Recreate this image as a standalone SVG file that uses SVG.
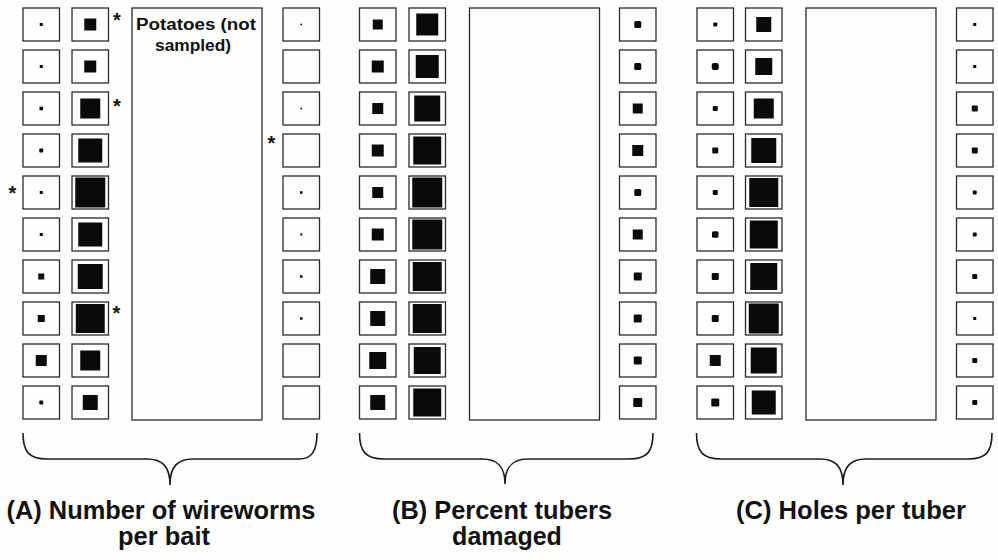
<svg xmlns="http://www.w3.org/2000/svg" xmlns:xlink="http://www.w3.org/1999/xlink" width="998" height="560" viewBox="0 0 998 560">
<style>
.b{fill:#fefefc;stroke:#2a2a2a;stroke-width:1.3}
.big{fill:#fefefc;stroke:#2a2a2a;stroke-width:1.3}
.f{fill:#0a0a0a}
.br{fill:none;stroke:#1a1a1a;stroke-width:1.6}
.t{font-family:"Liberation Sans",Arial,Helvetica,sans-serif;font-weight:bold;fill:#111}
.lab{font-size:25px;text-anchor:middle}
.pot{font-size:16px;text-anchor:middle}
.ast{font-size:20px;text-anchor:middle}
</style>
<defs>
<rect id="box" width="36.5" height="33" class="b"/>
</defs>
<rect width="998" height="560" fill="#fefefc"/>

<!-- Panel A -->
<g id="panelA">
<g id="A-potatoes"><rect class="big" x="132" y="8" width="130" height="412"/>
<text class="t pot" x="196" y="30" textLength="120" lengthAdjust="spacingAndGlyphs">Potatoes (not</text>
<text class="t pot" x="193" y="51" textLength="76" lengthAdjust="spacingAndGlyphs">sampled)</text></g>
<g id="A-c1-r1"><use href="#box" x="23" y="8"/><rect class="f" x="39.75" y="23" width="3" height="3"/></g>
<g id="A-c1-r2"><use href="#box" x="23" y="50"/><rect class="f" x="39.75" y="65" width="3" height="3"/></g>
<g id="A-c1-r3"><use href="#box" x="23" y="92"/><rect class="f" x="39.5" y="106.75" width="3.5" height="3.5"/></g>
<g id="A-c1-r4"><use href="#box" x="23" y="134"/><rect class="f" x="39.25" y="148.5" width="4" height="4" rx="1"/></g>
<g id="A-c1-r5"><use href="#box" x="23" y="176"/><rect class="f" x="39.75" y="191" width="3" height="3"/></g>
<g id="A-c1-r6"><use href="#box" x="23" y="218"/><rect class="f" x="39.75" y="233" width="3" height="3"/></g>
<g id="A-c1-r7"><use href="#box" x="23" y="260"/><rect class="f" x="38.25" y="273.5" width="6" height="6"/></g>
<g id="A-c1-r8"><use href="#box" x="23" y="302"/><rect class="f" x="37.75" y="315" width="7" height="7"/></g>
<g id="A-c1-r9"><use href="#box" x="23" y="344"/><rect class="f" x="35.75" y="355" width="11" height="11"/></g>
<g id="A-c1-r10"><use href="#box" x="23" y="386"/><rect class="f" x="39.25" y="400.5" width="4" height="4" rx="1"/></g>

<g id="A-c2-r1"><use href="#box" x="72" y="8"/><rect class="f" x="84.25" y="18.5" width="12" height="12"/></g>
<g id="A-c2-r2"><use href="#box" x="72" y="50"/><rect class="f" x="84.25" y="60.5" width="12" height="12"/></g>
<g id="A-c2-r3"><use href="#box" x="72" y="92"/><rect class="f" x="80.25" y="98.5" width="20" height="20"/></g>
<g id="A-c2-r4"><use href="#box" x="72" y="134"/><rect class="f" x="78.25" y="138.5" width="24" height="24"/></g>
<g id="A-c2-r5"><use href="#box" x="72" y="176"/><rect class="f" x="75.25" y="177.5" width="30" height="30"/></g>
<g id="A-c2-r6"><use href="#box" x="72" y="218"/><rect class="f" x="78.25" y="222.5" width="24" height="24"/></g>
<g id="A-c2-r7"><use href="#box" x="72" y="260"/><rect class="f" x="77.75" y="264" width="25" height="25"/></g>
<g id="A-c2-r8"><use href="#box" x="72" y="302"/><rect class="f" x="75.75" y="304" width="29" height="29"/></g>
<g id="A-c2-r9"><use href="#box" x="72" y="344"/><rect class="f" x="80.25" y="350.5" width="20" height="20"/></g>
<g id="A-c2-r10"><use href="#box" x="72" y="386"/><rect class="f" x="82.75" y="395" width="15" height="15"/></g>

<g id="A-c4-r1"><use href="#box" x="283" y="8"/><rect class="f" x="300.5" y="23.75" width="1.5" height="1.5"/></g>
<g id="A-c4-r2"><use href="#box" x="283" y="50"/></g>
<g id="A-c4-r3"><use href="#box" x="283" y="92"/><rect class="f" x="300.5" y="107.75" width="1.5" height="1.5"/></g>
<g id="A-c4-r4"><use href="#box" x="283" y="134"/></g>
<g id="A-c4-r5"><use href="#box" x="283" y="176"/><rect class="f" x="300" y="191.25" width="2.5" height="2.5"/></g>
<g id="A-c4-r6"><use href="#box" x="283" y="218"/><rect class="f" x="300.25" y="233.5" width="2" height="2"/></g>
<g id="A-c4-r7"><use href="#box" x="283" y="260"/><rect class="f" x="300" y="275.25" width="2.5" height="2.5"/></g>
<g id="A-c4-r8"><use href="#box" x="283" y="302"/><rect class="f" x="300" y="317.25" width="2.5" height="2.5"/></g>
<g id="A-c4-r9"><use href="#box" x="283" y="344"/></g>
<g id="A-c4-r10"><use href="#box" x="283" y="386"/></g>

<g id="A-asterisks">
<text class="t ast" x="117" y="26.5">*</text>
<text class="t ast" x="117" y="113">*</text>
<text class="t ast" x="271.5" y="149.5">*</text>
<text class="t ast" x="12.5" y="199.5">*</text>
<text class="t ast" x="116.5" y="319.5">*</text>
</g>
</g>

<!-- Panel B -->
<g id="panelB">
<g id="B-potatoes"><rect class="big" x="469.5" y="8" width="130" height="412"/></g>
<g id="B-c1-r1"><use href="#box" x="359.5" y="8"/><rect class="f" x="372.75" y="19.5" width="10" height="10"/></g>
<g id="B-c1-r2"><use href="#box" x="359.5" y="50"/><rect class="f" x="371.75" y="60.5" width="12" height="12"/></g>
<g id="B-c1-r3"><use href="#box" x="359.5" y="92"/><rect class="f" x="372.25" y="103" width="11" height="11"/></g>
<g id="B-c1-r4"><use href="#box" x="359.5" y="134"/><rect class="f" x="371.75" y="144.5" width="12" height="12"/></g>
<g id="B-c1-r5"><use href="#box" x="359.5" y="176"/><rect class="f" x="372.25" y="187" width="11" height="11"/></g>
<g id="B-c1-r6"><use href="#box" x="359.5" y="218"/><rect class="f" x="371.75" y="228.5" width="12" height="12"/></g>
<g id="B-c1-r7"><use href="#box" x="359.5" y="260"/><rect class="f" x="370.25" y="269" width="15" height="15"/></g>
<g id="B-c1-r8"><use href="#box" x="359.5" y="302"/><rect class="f" x="370.25" y="311" width="15" height="15"/></g>
<g id="B-c1-r9"><use href="#box" x="359.5" y="344"/><rect class="f" x="369.25" y="352" width="17" height="17"/></g>
<g id="B-c1-r10"><use href="#box" x="359.5" y="386"/><rect class="f" x="370.25" y="395" width="15" height="15"/></g>

<g id="B-c2-r1"><use href="#box" x="409" y="8"/><rect class="f" x="416.25" y="13.5" width="22" height="22"/></g>
<g id="B-c2-r2"><use href="#box" x="409" y="50"/><rect class="f" x="415.75" y="55" width="23" height="23"/></g>
<g id="B-c2-r3"><use href="#box" x="409" y="92"/><rect class="f" x="414.25" y="95.5" width="26" height="26"/></g>
<g id="B-c2-r4"><use href="#box" x="409" y="134"/><rect class="f" x="413.25" y="136.5" width="28" height="28"/></g>
<g id="B-c2-r5"><use href="#box" x="409" y="176"/><rect class="f" x="412.25" y="177.5" width="30" height="30"/></g>
<g id="B-c2-r6"><use href="#box" x="409" y="218"/><rect class="f" x="412.25" y="219.5" width="30" height="30"/></g>
<g id="B-c2-r7"><use href="#box" x="409" y="260"/><rect class="f" x="412.75" y="262" width="29" height="29"/></g>
<g id="B-c2-r8"><use href="#box" x="409" y="302"/><rect class="f" x="412.75" y="304" width="29" height="29"/></g>
<g id="B-c2-r9"><use href="#box" x="409" y="344"/><rect class="f" x="413.75" y="347" width="27" height="27"/></g>
<g id="B-c2-r10"><use href="#box" x="409" y="386"/><rect class="f" x="413.25" y="388.5" width="28" height="28"/></g>

<g id="B-c4-r1"><use href="#box" x="619.5" y="8"/><rect class="f" x="634.25" y="21" width="7" height="7" rx="1.5"/></g>
<g id="B-c4-r2"><use href="#box" x="619.5" y="50"/><rect class="f" x="634.25" y="63" width="7" height="7" rx="1.5"/></g>
<g id="B-c4-r3"><use href="#box" x="619.5" y="92"/><rect class="f" x="632.75" y="103.5" width="10" height="10"/></g>
<g id="B-c4-r4"><use href="#box" x="619.5" y="134"/><rect class="f" x="632.25" y="145" width="11" height="11"/></g>
<g id="B-c4-r5"><use href="#box" x="619.5" y="176"/><rect class="f" x="634.25" y="189" width="7" height="7" rx="1.5"/></g>
<g id="B-c4-r6"><use href="#box" x="619.5" y="218"/><rect class="f" x="632.75" y="229.5" width="10" height="10"/></g>
<g id="B-c4-r7"><use href="#box" x="619.5" y="260"/><rect class="f" x="633.75" y="272.5" width="8" height="8" rx="1"/></g>
<g id="B-c4-r8"><use href="#box" x="619.5" y="302"/><rect class="f" x="633.75" y="314.5" width="8" height="8" rx="1"/></g>
<g id="B-c4-r9"><use href="#box" x="619.5" y="344"/><rect class="f" x="633.75" y="356.5" width="8" height="8" rx="1"/></g>
<g id="B-c4-r10"><use href="#box" x="619.5" y="386"/><rect class="f" x="633.25" y="398" width="9" height="9" rx="1"/></g>
</g>

<!-- Panel C -->
<g id="panelC">
<g id="C-potatoes"><rect class="big" x="806" y="8" width="130" height="412"/></g>
<g id="C-c1-r1"><use href="#box" x="697" y="8"/><rect class="f" x="713.25" y="22.5" width="4" height="4" rx="1"/></g>
<g id="C-c1-r2"><use href="#box" x="697" y="50"/><rect class="f" x="711.75" y="63" width="7" height="7" rx="2"/></g>
<g id="C-c1-r3"><use href="#box" x="697" y="92"/><rect class="f" x="712.75" y="106" width="5" height="5" rx="1"/></g>
<g id="C-c1-r4"><use href="#box" x="697" y="134"/><rect class="f" x="712.25" y="147.5" width="6" height="6" rx="1"/></g>
<g id="C-c1-r5"><use href="#box" x="697" y="176"/><rect class="f" x="712.75" y="190" width="5" height="5" rx="1"/></g>
<g id="C-c1-r6"><use href="#box" x="697" y="218"/><rect class="f" x="712" y="231.25" width="6.5" height="6.5" rx="1.5"/></g>
<g id="C-c1-r7"><use href="#box" x="697" y="260"/><rect class="f" x="711.75" y="273" width="7" height="7" rx="1"/></g>
<g id="C-c1-r8"><use href="#box" x="697" y="302"/><rect class="f" x="711.75" y="315" width="7" height="7" rx="1"/></g>
<g id="C-c1-r9"><use href="#box" x="697" y="344"/><rect class="f" x="709.75" y="355" width="11" height="11"/></g>
<g id="C-c1-r10"><use href="#box" x="697" y="386"/><rect class="f" x="711.25" y="398.5" width="8" height="8" rx="1"/></g>

<g id="C-c2-r1"><use href="#box" x="745.5" y="8"/><rect class="f" x="756.25" y="17" width="15" height="15"/></g>
<g id="C-c2-r2"><use href="#box" x="745.5" y="50"/><rect class="f" x="755.25" y="58" width="17" height="17"/></g>
<g id="C-c2-r3"><use href="#box" x="745.5" y="92"/><rect class="f" x="753.75" y="98.5" width="20" height="20"/></g>
<g id="C-c2-r4"><use href="#box" x="745.5" y="134"/><rect class="f" x="751.25" y="138" width="25" height="25"/></g>
<g id="C-c2-r5"><use href="#box" x="745.5" y="176"/><rect class="f" x="749.25" y="178" width="29" height="29"/></g>
<g id="C-c2-r6"><use href="#box" x="745.5" y="218"/><rect class="f" x="749.75" y="220.5" width="28" height="28"/></g>
<g id="C-c2-r7"><use href="#box" x="745.5" y="260"/><rect class="f" x="750.25" y="263" width="27" height="27"/></g>
<g id="C-c2-r8"><use href="#box" x="745.5" y="302"/><rect class="f" x="748.75" y="303.5" width="30" height="30"/></g>
<g id="C-c2-r9"><use href="#box" x="745.5" y="344"/><rect class="f" x="750.75" y="347.5" width="26" height="26"/></g>
<g id="C-c2-r10"><use href="#box" x="745.5" y="386"/><rect class="f" x="751.75" y="390.5" width="24" height="24"/></g>

<g id="C-c4-r1"><use href="#box" x="956.5" y="8"/><rect class="f" x="973.25" y="23" width="3" height="3"/></g>
<g id="C-c4-r2"><use href="#box" x="956.5" y="50"/><rect class="f" x="973.25" y="65" width="3" height="3"/></g>
<g id="C-c4-r3"><use href="#box" x="956.5" y="92"/><rect class="f" x="971.75" y="105.5" width="6" height="6" rx="1"/></g>
<g id="C-c4-r4"><use href="#box" x="956.5" y="134"/><rect class="f" x="971.75" y="147.5" width="6" height="6" rx="1"/></g>
<g id="C-c4-r5"><use href="#box" x="956.5" y="176"/><rect class="f" x="972.75" y="190.5" width="4" height="4" rx="1"/></g>
<g id="C-c4-r6"><use href="#box" x="956.5" y="218"/><rect class="f" x="972.75" y="232.5" width="4" height="4" rx="1"/></g>
<g id="C-c4-r7"><use href="#box" x="956.5" y="260"/><rect class="f" x="972.25" y="274" width="5" height="5" rx="1"/></g>
<g id="C-c4-r8"><use href="#box" x="956.5" y="302"/><rect class="f" x="973.25" y="317" width="3" height="3"/></g>
<g id="C-c4-r9"><use href="#box" x="956.5" y="344"/><rect class="f" x="972.25" y="358" width="5" height="5" rx="1"/></g>
<g id="C-c4-r10"><use href="#box" x="956.5" y="386"/><rect class="f" x="972.25" y="400" width="5" height="5" rx="1"/></g>
</g>

<!-- Braces -->
<g id="connectors">
<path class="br" d="M23,433 C23,452 29,459 47,459 L147,459 C162,459 170,466 170,485 C170,466 178,459 193,459 L299,459 C311,459 317,452 317,433"/>
<path class="br" d="M359.5,433 C359.5,452 366,459 384,459 L482,459 C497,459 505,466 505,484 C505,466 513,459 528,459 L629,459 C647,459 653,452 653,433"/>
<path class="br" d="M696.5,433 C696.5,452 703,459 721,459 L820,459 C835,459 843,466 843,485 C843,466 851,459 866,459 L968,459 C986,459 992,452 992,433"/>
</g>

<!-- Labels -->
<g id="labelA">
<text class="t lab" x="161" y="519" textLength="309" lengthAdjust="spacingAndGlyphs">(A) Number of wireworms</text>
<text class="t lab" x="164" y="545" textLength="92" lengthAdjust="spacingAndGlyphs">per bait</text>
</g>
<g id="labelB">
<text class="t lab" x="502" y="519" textLength="220" lengthAdjust="spacingAndGlyphs">(B) Percent tubers</text>
<text class="t lab" x="507" y="545">damaged</text>
</g>
<g id="labelC">
<text class="t lab" x="851" y="519" textLength="230" lengthAdjust="spacingAndGlyphs">(C) Holes per tuber</text>
</g>
</svg>
